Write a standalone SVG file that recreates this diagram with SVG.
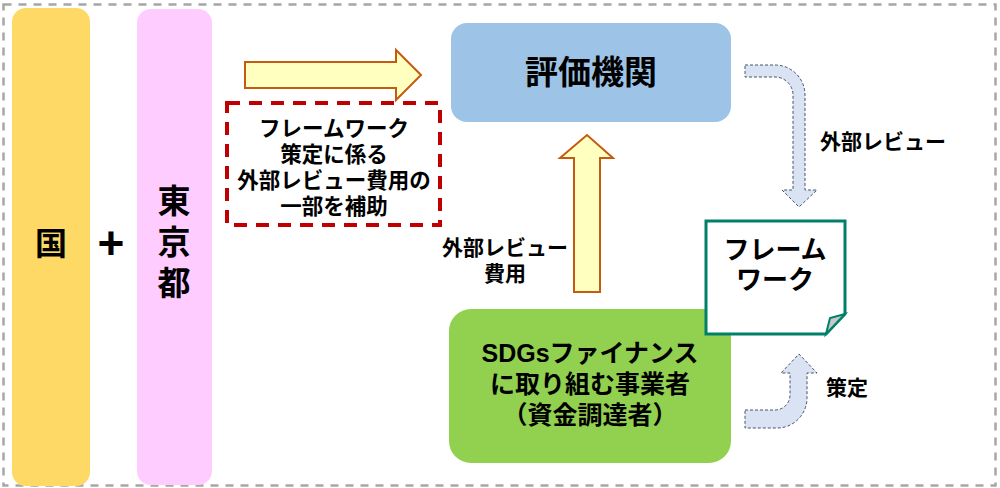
<svg xmlns="http://www.w3.org/2000/svg" width="1000" height="488" viewBox="0 0 1000 488">
<style>
  text { font-family: "Liberation Sans", "Noto Sans CJK JP", sans-serif; font-weight: bold; fill: #000; text-anchor: middle; dominant-baseline: central; }
  .lbl { font-size: 21px; }
  .sub { font-size: 21.5px; }
  .orange { fill: #ffffc0; stroke: #c55a11; stroke-width: 2; }
  .blue { fill: #dae3f3; stroke: #44546a; stroke-width: 1; stroke-dasharray: 3 2; }
</style>
<rect width="1000" height="488" fill="#ffffff"/>
<rect x="3.5" y="4.5" width="992" height="481" fill="none" stroke="#a6a6a6" stroke-width="2.5" stroke-dasharray="8 7"/>

<g id="kuni">
  <rect x="12" y="8" width="78" height="478" rx="14" fill="#ffd966"/>
  <text x="51" y="244" style="font-size:32px">国</text>
</g>
<g id="plus">
  <text x="111" y="243" style="font-size:46px">+</text>
</g>
<g id="tokyo">
  <rect x="137" y="9" width="75" height="476" rx="14" fill="#ffccff"/>
  <text x="174" y="201" style="font-size:33px">東</text>
  <text x="174" y="242" style="font-size:33px">京</text>
  <text x="174" y="283" style="font-size:33px">都</text>
</g>
<g id="subsidy">
  <rect x="227" y="103" width="213" height="122" fill="#ffffff" stroke="#c00000" stroke-width="4" stroke-dasharray="13 9"/>
  <text class="sub" x="334" y="129">フレームワーク</text>
  <text class="sub" x="334" y="155">策定に係る</text>
  <text class="sub" x="334" y="181">外部レビュー費用の</text>
  <text class="sub" x="334" y="207">一部を補助</text>
</g>
<g id="hyoka">
  <rect x="451" y="23" width="280" height="99" rx="16" fill="#9dc3e6"/>
  <text x="591" y="72" style="font-size:33px">評価機関</text>
</g>
<g id="sdgs">
  <rect x="449" y="309" width="282" height="154" rx="22" fill="#92d050"/>
  <text x="590" y="353" style="font-size:25px">SDGsファイナンス</text>
  <text x="590" y="384" style="font-size:25px">に取り組む事業者</text>
  <text x="590" y="415" style="font-size:25px">（資金調達者）</text>
</g>
<g id="framework">
  <path d="M706,221 L845,221 L845,314 L826,334 L706,334 Z" fill="#ffffff" stroke="#00806b" stroke-width="3" stroke-linejoin="miter"/>
  <path d="M845,314 L830,318 L826,334 Z" fill="#c8c8c8" stroke="#00806b" stroke-width="2"/>
  <text x="775" y="250" style="font-size:26px">フレーム</text>
  <text x="775" y="280" style="font-size:26px">ワーク</text>
</g>

<g id="connectors">
  <path class="orange" d="M245,62 L396,62 L396,50 L421,75 L396,100 L396,88 L245,88 Z"/>
  <path class="orange" d="M574,292 L574,158 L560,158 L587,135 L613,158 L600,158 L600,292 Z"/>
  <path class="blue" d="M745,65 L775,65 A30,30 0 0 1 805,95 L805,190 L817,190 L799,207 L782,190 L793,190 L793,95 A18,18 0 0 0 775,77 L745,77 Z"/>
  <path class="blue" d="M745,410 L775,410 A15,15 0 0 0 790,395 L790,373 L781,373 L799,354 L817,373 L807,373 L807,398 A30,30 0 0 1 777,428 L745,428 Z"/>
</g>

<g id="labels">
  <text class="lbl" x="505" y="247">外部レビュー</text>
  <text class="lbl" x="505" y="273">費用</text>
  <text class="lbl" x="883" y="141">外部レビュー</text>
  <text class="lbl" x="847" y="387">策定</text>
</g>
</svg>
